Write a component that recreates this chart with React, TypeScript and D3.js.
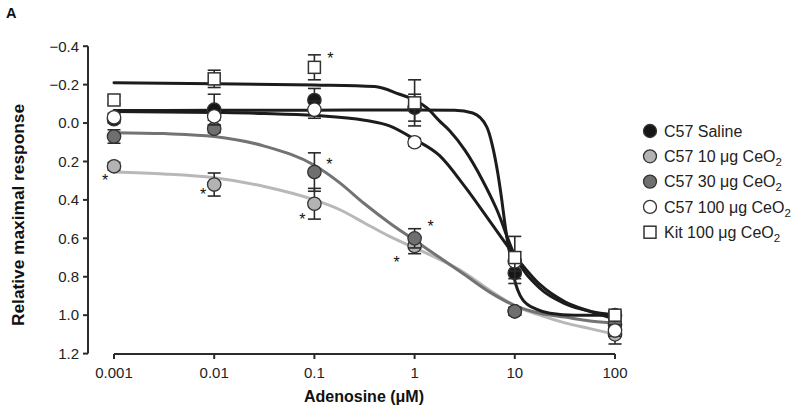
import React from "react";
import * as d3 from "d3";

// ---------- data ----------
const doses = [0.001, 0.01, 0.1, 1, 10, 100];

const salineMean = [-0.02, -0.07, -0.12, -0.08, 0.78, 1.0];
const salineErr = [0.02, 0.08, 0.06, 0.07, 0.055, 0.02];
const ceo10Mean = [0.225, 0.32, 0.42, 0.64, 0.98, 1.1];
const ceo10Err = [0.02, 0.06, 0.08, 0.04, 0.02, 0.05];
const ceo30Mean = [0.07, 0.03, 0.255, 0.6, 0.98, 1.05];
const ceo30Err = [0.035, 0.02, 0.1, 0.05, 0.02, 0.02];
const ceo100Mean = [-0.03, -0.035, -0.07, 0.1, 0.72, 1.08];
const ceo100Err = [0.02, 0.02, 0.045, 0.02, 0.05, 0.03];
const kitMean = [-0.12, -0.23, -0.29, -0.105, 0.7, 1.0];
const kitErr = [0.02, 0.045, 0.065, 0.12, 0.11, 0.02];

// fitted curves (log10 dose, response)
const salineFitLog = [-3, -2, -1, 0, 0.4, 0.58, 0.72, 0.78, 0.83, 0.87, 0.9, 0.93, 0.97, 1.0, 1.03, 1.08, 1.22, 1.35, 1.6, 2];
const salineFitVal = [-0.065, -0.066, -0.067, -0.068, -0.066, -0.052, 0.02, 0.125, 0.26, 0.4, 0.52, 0.625, 0.73, 0.82, 0.87, 0.92, 0.97, 0.99, 1.0, 1.0];
const ceo100FitLog = [-3, -2, -1.5, -1, -0.5, -0.25, 0, 0.25, 0.5, 0.75, 1, 1.25, 1.5, 1.75, 2];
const ceo100FitVal = [-0.06, -0.055, -0.05, -0.04, -0.015, 0.015, 0.085, 0.17, 0.33, 0.51, 0.69, 0.84, 0.93, 0.98, 1.02];
const kitFitLog = [-3, -2, -1, -0.4, -0.15, 0, 0.12, 0.25, 0.35, 0.5, 0.68, 0.82, 1, 1.25, 1.5, 1.75, 2];
const kitFitVal = [-0.21, -0.205, -0.198, -0.19, -0.15, -0.12, -0.08, -0.01, 0.04, 0.14, 0.3, 0.45, 0.69, 0.86, 0.94, 0.98, 1.0];
const ceo30FitLog = [-3, -2.5, -2, -1.5, -1, -0.75, -0.5, -0.25, 0, 0.25, 0.5, 0.75, 1, 1.25, 1.5, 1.75, 2];
const ceo30FitVal = [0.05, 0.055, 0.07, 0.12, 0.22, 0.31, 0.42, 0.52, 0.61, 0.7, 0.79, 0.88, 0.95, 0.99, 1.01, 1.03, 1.04];
const ceo10FitLog = [-3, -2.5, -2, -1.5, -1, -0.75, -0.5, -0.25, 0, 0.25, 0.5, 0.75, 1, 1.25, 1.5, 1.75, 2];
const ceo10FitVal = [0.255, 0.265, 0.285, 0.33, 0.4, 0.45, 0.52, 0.59, 0.65, 0.71, 0.78, 0.87, 0.95, 1.0, 1.04, 1.07, 1.1];

const yTicks = [-0.4, -0.2, 0.0, 0.2, 0.4, 0.6, 0.8, 1.0, 1.2];
const xTickLabels = ["0.001", "0.01", "0.1", "1", "10", "100"];

const legendLabels = ["C57 Saline", "C57 10 μg CeO₂", "C57 30 μg CeO₂", "C57 100 μg CeO₂", "Kit 100 μg CeO₂"];

// significance asterisks
const sigSeries = ["kit", "ceo30", "ceo10", "ceo10", "ceo10", "ceo30", "ceo10"];
const sigDose = [0.1, 0.1, 0.1, 0.01, 0.001, 1, 1];

// ---------- styling ----------
const FONT = "'Liberation Sans', Arial, Helvetica, sans-serif";
const INK = "#2b2b2b";
const sigOffsets: [number, number][] = [
  [16, -12], [15, -11], [-12, 13], [-11, 7], [-9, 11], [16, -15], [-18, 13],
];

type Series = {
  key: string;
  mean: number[];
  err: number[];
  fitLog: number[];
  fitVal: number[];
  fill: string;
  curve: string;
  shape: "circle" | "square";
};

const seriesList: Series[] = [
  { key: "saline", mean: salineMean, err: salineErr, fitLog: salineFitLog, fitVal: salineFitVal, fill: "#161616", curve: "#1c1c1c", shape: "circle" },
  { key: "ceo10", mean: ceo10Mean, err: ceo10Err, fitLog: ceo10FitLog, fitVal: ceo10FitVal, fill: "#b3b3b3", curve: "#b8b8b8", shape: "circle" },
  { key: "ceo30", mean: ceo30Mean, err: ceo30Err, fitLog: ceo30FitLog, fitVal: ceo30FitVal, fill: "#6f6f6f", curve: "#737373", shape: "circle" },
  { key: "ceo100", mean: ceo100Mean, err: ceo100Err, fitLog: ceo100FitLog, fitVal: ceo100FitVal, fill: "#ffffff", curve: "#1c1c1c", shape: "circle" },
  { key: "kit", mean: kitMean, err: kitErr, fitLog: kitFitLog, fitVal: kitFitVal, fill: "#ffffff", curve: "#1c1c1c", shape: "square" },
];

const curveOrder = ["ceo10", "ceo30", "kit", "ceo100", "saline"];
const pointOrder = ["ceo10", "ceo30", "saline", "ceo100", "kit"];

export default function App() {
  const W = 800, H = 411;
  const x = d3.scaleLog().domain([0.001, 100]).range([114, 615]);
  const y = d3.scaleLinear().domain([-0.4, 1.2]).range([46.2, 353.6]);
  const byKey = (k: string) => seriesList.find((s) => s.key === k)!;

  const line = d3
    .line<[number, number]>()
    .x((d) => x(Math.pow(10, d[0])))
    .y((d) => y(d[1]))
    .curve(d3.curveMonotoneX);

  const R = 6.7;
  const SQ = 12;
  const CAP = 6.5;

  const marker = (s: Series, cx: number, cy: number, key: string) =>
    s.shape === "circle" ? (
      <circle key={key} cx={cx} cy={cy} r={R} fill={s.fill} stroke="#333" strokeWidth={1.3} />
    ) : (
      <rect key={key} x={cx - SQ / 2} y={cy - SQ / 2} width={SQ} height={SQ} fill={s.fill} stroke="#333" strokeWidth={1.5} />
    );

  const legendY0 = 131;
  const legendStep = 25.3;

  return (
    <svg width={W} height={H} style={{ position: "absolute", left: 0, top: 0, background: "#fff" }} fontFamily={FONT}>
      <rect x={0} y={0} width={W} height={H} fill="#fff" />
      {/* Panel letter */}
      <text x={6} y={18} fontSize={14.5} fontWeight="bold" fill="#111">A</text>

      {/* Y axis */}
      <line x1={88} x2={88} y1={y(-0.4)} y2={y(1.2)} stroke={INK} strokeWidth={2} />
      {yTicks.map((t) => (
        <g key={t}>
          <line x1={83} x2={88} y1={y(t)} y2={y(t)} stroke={INK} strokeWidth={2} />
          <text x={79} y={y(t) + 5.3} fontSize={15} textAnchor="end" fill="#222">
            {t < 0 ? "\u2212" + Math.abs(t).toFixed(1) : t.toFixed(1)}
          </text>
        </g>
      ))}
      <text
        transform={`translate(24, 215) rotate(-90)`}
        fontSize={16}
        fontWeight="bold"
        textAnchor="middle"
        fill="#111"
        textLength={222}
        lengthAdjust="spacingAndGlyphs"
      >
        Relative maximal response
      </text>

      {/* X axis */}
      <line x1={x(0.001)} x2={x(100)} y1={354} y2={354} stroke={INK} strokeWidth={2} />
      {doses.map((d, i) => (
        <g key={d}>
          <line x1={x(d)} x2={x(d)} y1={354} y2={359} stroke={INK} strokeWidth={2} />
          <text x={x(d)} y={377.5} fontSize={15} textAnchor="middle" fill="#222">{xTickLabels[i]}</text>
        </g>
      ))}
      <text x={364} y={402} fontSize={16} fontWeight="bold" textAnchor="middle" fill="#111">Adenosine (μM)</text>

      {/* Fitted curves */}
      {curveOrder.map((k) => {
        const s = byKey(k);
        const pts = s.fitLog.map((l, i) => [l, s.fitVal[i]] as [number, number]);
        return <path key={k} d={line(pts) || ""} fill="none" stroke={s.curve} strokeWidth={3} strokeLinecap="round" />;
      })}

      {/* Points with error bars */}
      {pointOrder.map((k) => {
        const s = byKey(k);
        return (
          <g key={k}>
            {doses.map((d, i) => {
              const cx = x(d);
              const y1 = y(s.mean[i] - s.err[i]);
              const y2 = y(s.mean[i] + s.err[i]);
              return (
                <g key={i} stroke="#2a2a2a" strokeWidth={1.6}>
                  <line x1={cx} x2={cx} y1={y1} y2={y2} />
                  <line x1={cx - CAP} x2={cx + CAP} y1={y1} y2={y1} />
                  <line x1={cx - CAP} x2={cx + CAP} y1={y2} y2={y2} />
                </g>
              );
            })}
            {doses.map((d, i) => marker(s, x(d), y(s.mean[i]), "m" + i))}
          </g>
        );
      })}

      {/* Significance asterisks */}
      {sigSeries.map((k, i) => {
        const s = byKey(k);
        const di = doses.indexOf(sigDose[i]);
        const cx = x(sigDose[i]) + sigOffsets[i][0];
        const cy = y(s.mean[di]) + sigOffsets[i][1];
        return (
          <text key={i} x={cx} y={cy + 8.5} fontSize={16} textAnchor="middle" fill="#111">*</text>
        );
      })}

      {/* Legend */}
      {legendLabels.map((lab, i) => {
        const s = seriesList[i];
        const cy = legendY0 + i * legendStep;
        const hasSub = lab.endsWith("₂");
        const main = hasSub ? lab.slice(0, -1) : lab;
        return (
          <g key={lab}>
            {s.shape === "circle" ? (
              <circle cx={650} cy={cy} r={6.5} fill={s.fill} stroke="#333" strokeWidth={1.3} />
            ) : (
              <rect x={644} y={cy - 6} width={12} height={12} fill={s.fill} stroke="#333" strokeWidth={1.5} />
            )}
            <text x={664} y={cy + 5.8} fontSize={16} fill="#222">
              {main}
              {hasSub && (
                <tspan dy={4} fontSize={11.5}>2</tspan>
              )}
            </text>
          </g>
        );
      })}
    </svg>
  );
}
